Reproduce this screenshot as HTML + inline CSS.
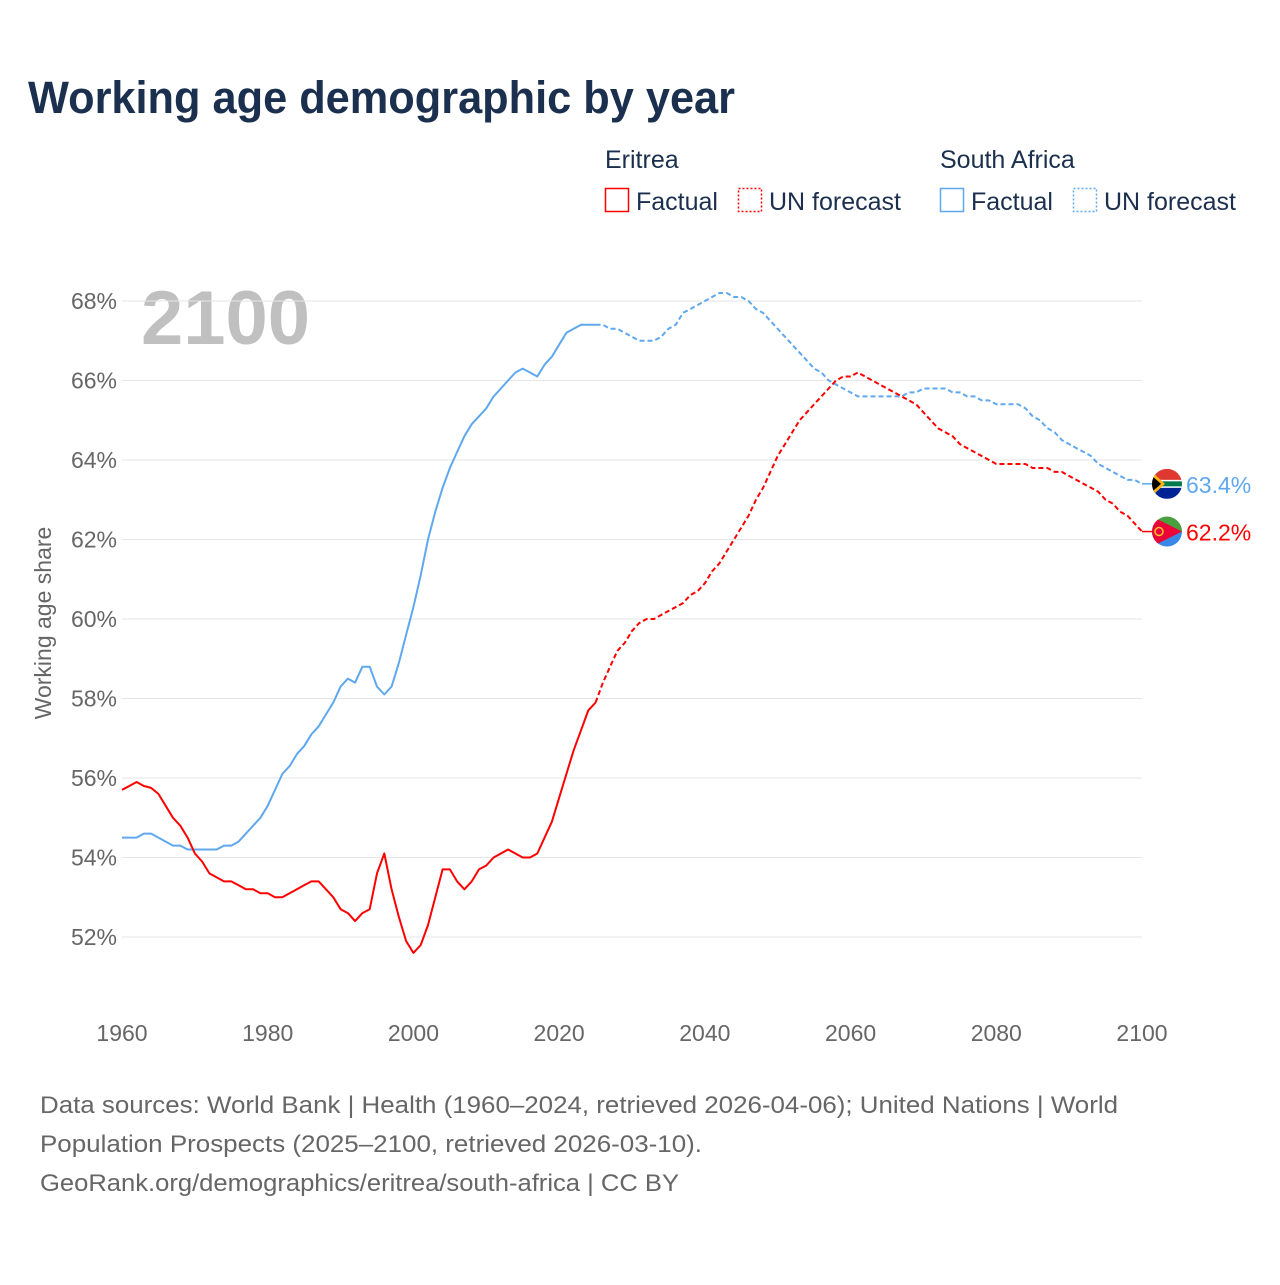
<!DOCTYPE html>
<html><head><meta charset="utf-8"><style>
body{margin:0;background:#fff;font-family:"Liberation Sans",sans-serif}
svg text{font-family:"Liberation Sans",sans-serif}
</style></head><body>
<svg id="chart" width="1280" height="1280" viewBox="0 0 1280 1280" xmlns="http://www.w3.org/2000/svg">
<rect width="1280" height="1280" fill="#fff"/>
<text x="28" y="113" font-size="45" font-weight="bold" fill="#1b2f4e" textLength="707" lengthAdjust="spacingAndGlyphs">Working age demographic by year</text>
<g font-size="25" fill="#1b2f4e">
<text x="605" y="168" fill="#1b2f4e">Eritrea</text>
<text x="940" y="168" fill="#1b2f4e">South Africa</text>
<g><rect x="605.5" y="188.5" width="23" height="23" fill="none" stroke="#f00" stroke-width="1.5"/><text x="636" y="210" fill="#1b2f4e">Factual</text></g>
<g><rect x="738.5" y="188.5" width="23" height="23" fill="none" stroke="#f00" stroke-width="1.5" stroke-dasharray="2 2"/><text x="769" y="210" fill="#1b2f4e">UN forecast</text></g>
<g><rect x="940.5" y="188.5" width="23" height="23" fill="none" stroke="#5fa8ee" stroke-width="1.5"/><text x="971" y="210" fill="#1b2f4e">Factual</text></g>
<g><rect x="1073.5" y="188.5" width="23" height="23" fill="none" stroke="#5fa8ee" stroke-width="1.5" stroke-dasharray="2 2"/><text x="1104" y="210" fill="#1b2f4e">UN forecast</text></g>
</g>
<text x="141" y="344" font-size="76" font-weight="bold" fill="#c0c0c0">2100</text>
<g id="grid"></g><g id="yticks"></g><g id="xticks"></g><g id="lines"></g><g id="ends"></g>
<text transform="translate(51,623) rotate(-90)" text-anchor="middle" font-size="23" fill="#666">Working age share</text>
<g font-size="24" fill="#666">
<text x="40" y="1113" textLength="1078" lengthAdjust="spacingAndGlyphs">Data sources: World Bank | Health (1960–2024, retrieved 2026-04-06); United Nations | World</text>
<text x="40" y="1152" textLength="662" lengthAdjust="spacingAndGlyphs">Population Prospects (2025–2100, retrieved 2026-03-10).</text>
<text x="40" y="1191" textLength="639" lengthAdjust="spacingAndGlyphs">GeoRank.org/demographics/eritrea/south-africa | CC BY</text>
</g>
</svg>
<script>
const yTicks=[52,54,56,58,60,62,64,66,68];
const xTicks=[1960,1980,2000,2020,2040,2060,2080,2100];
const factualStart=1960;
const forecastStart=2025;
const eriFactual=[55.7,55.8,55.9,55.8,55.75,55.6,55.3,55.0,54.8,54.5,
54.1,53.9,53.6,53.5,53.4,53.4,53.3,53.2,53.2,53.1,
53.1,53.0,53.0,53.1,53.2,53.3,53.4,53.4,53.2,53.0,
52.7,52.6,52.4,52.6,52.7,53.6,54.1,53.2,52.5,51.9,
51.6,51.8,52.3,53.0,53.7,53.7,53.4,53.2,53.4,53.7,
53.8,54.0,54.1,54.2,54.1,54.0,54.0,54.1,54.5,54.9,
55.5,56.1,56.7,57.2,57.7,57.9];
const eriForecast=[57.9,
58.4,58.8,59.2,59.4,59.7,59.9,60.0,60.0,60.1,60.2,
60.3,60.4,60.6,60.7,60.9,61.2,61.4,61.7,62.0,62.3,
62.6,63.0,63.3,63.7,64.1,64.4,64.7,65.0,65.2,65.4,
65.6,65.8,66.0,66.1,66.1,66.2,66.1,66.0,65.9,65.8,
65.7,65.6,65.5,65.4,65.2,65.0,64.8,64.7,64.6,64.4,
64.3,64.2,64.1,64.0,63.9,63.9,63.9,63.9,63.9,63.8,
63.8,63.8,63.7,63.7,63.6,63.5,63.4,63.3,63.2,63.0,
62.9,62.7,62.6,62.4,62.2];
const saFactual=[54.5,54.5,54.5,54.6,54.6,54.5,54.4,54.3,54.3,54.2,
54.2,54.2,54.2,54.2,54.3,54.3,54.4,54.6,54.8,55.0,
55.3,55.7,56.1,56.3,56.6,56.8,57.1,57.3,57.6,57.9,
58.3,58.5,58.4,58.8,58.8,58.3,58.1,58.3,58.9,59.6,
60.3,61.1,62.0,62.7,63.3,63.8,64.2,64.6,64.9,65.1,
65.3,65.6,65.8,66.0,66.2,66.3,66.2,66.1,66.4,66.6,
66.9,67.2,67.3,67.4,67.4,67.4];
const saForecast=[67.4,
67.4,67.3,67.3,67.2,67.1,67.0,67.0,67.0,67.1,67.3,
67.4,67.7,67.8,67.9,68.0,68.1,68.2,68.2,68.1,68.1,
68.0,67.8,67.7,67.5,67.3,67.1,66.9,66.7,66.5,66.3,
66.2,66.0,65.9,65.8,65.7,65.6,65.6,65.6,65.6,65.6,
65.6,65.6,65.7,65.7,65.8,65.8,65.8,65.8,65.7,65.7,
65.6,65.6,65.5,65.5,65.4,65.4,65.4,65.4,65.3,65.1,
65.0,64.8,64.7,64.5,64.4,64.3,64.2,64.1,63.9,63.8,
63.7,63.6,63.5,63.5,63.4];
const NS='http://www.w3.org/2000/svg';
const X=y=>122+(y-1960)*(1142-122)/140;
const Y=v=>301+(68-v)*(937-301)/16;
function mk(t,a,p){const e=document.createElementNS(NS,t);for(const k in a)e.setAttribute(k,a[k]);p.appendChild(e);return e;}
const grid=document.getElementById('grid'),yt=document.getElementById('yticks'),xt=document.getElementById('xticks'),lines=document.getElementById('lines'),ends=document.getElementById('ends');
yTicks.forEach(v=>{
 const l=mk('line',{x1:122,x2:1142,y1:Y(v),y2:Y(v),stroke:'#e6e6e6','stroke-width':1},grid);
 
 
 const t=mk('text',{x:117,y:Y(v)+8,'text-anchor':'end','font-size':23,fill:'#666'},yt);
 t.textContent=v+'%';
 
 
});
xTicks.forEach(y=>{
 const t=mk('text',{x:X(y),y:1041,'text-anchor':'middle','font-size':23,fill:'#666'},xt);
 t.textContent=y;
 
 
});
function path(vals,start,color,dash,name){
 const d=vals.map((v,i)=>(i?'L':'M')+X(start+i).toFixed(1)+','+Y(v).toFixed(1)).join(' ');
 const p=mk('path',{d:d,fill:'none',stroke:color,'stroke-width':2,'stroke-linejoin':'round'},lines);
 if(dash)p.setAttribute('stroke-dasharray','5 3');
 
 
}
path(saFactual,factualStart,'#5fa8ee',false,'south-africa-factual-line');
path(saForecast,forecastStart,'#5fa8ee',true,'south-africa-forecast-line');
path(eriFactual,factualStart,'#ff0000',false,'eritrea-factual-line');
path(eriForecast,forecastStart,'#ff0000',true,'eritrea-forecast-line');
function endLabel(v,color,name,flag){
 const y=Y(v),cx=1167;
 const g=mk('g',{},ends);
 
 
 mk('line',{x1:1142,x2:cx-14,y1:y,y2:y,stroke:color,'stroke-width':1.5},g);
 const cp=mk('clipPath',{id:name+'-clip'},g);mk('circle',{cx:cx,cy:y,r:15},cp);
 const f=mk('g',{'clip-path':'url(#'+name+'-clip)'},g);
 flag(f,cx,y);
 const t=mk('text',{x:1186,y:y+9,'font-size':23,fill:color},g);
 t.textContent=v.toFixed(1)+'%';
}
endLabel(saForecast[saForecast.length-1],'#5fa8ee','south-africa-end-label',(f,cx,y)=>{
 mk('rect',{x:cx-15,y:y-15,width:30,height:15,fill:'#de3831'},f);
 mk('rect',{x:cx-15,y:y,width:30,height:15,fill:'#002395'},f);
 mk('rect',{x:cx-15,y:y-4,width:30,height:8,fill:'#fff'},f);
 mk('rect',{x:cx-15,y:y-2.5,width:30,height:5,fill:'#007a4d'},f);
 mk('polygon',{points:`${cx-15},${y-12} ${cx-2},${y} ${cx-15},${y+12}`,fill:'#ffb612'},f);
 mk('polygon',{points:`${cx-15},${y-8} ${cx-6},${y} ${cx-15},${y+8}`,fill:'#000'},f);
});
endLabel(eriForecast[eriForecast.length-1],'#ff0000','eritrea-end-label',(f,cx,y)=>{
 mk('rect',{x:cx-15,y:y-15,width:30,height:15,fill:'#4aa03f'},f);
 mk('rect',{x:cx-15,y:y,width:30,height:15,fill:'#3a87e8'},f);
 mk('polygon',{points:`${cx-15},${y-15} ${cx+15},${y} ${cx-15},${y+15}`,fill:'#ea0437'},f);
 mk('circle',{cx:cx-8,cy:y,r:4,fill:'none',stroke:'#ffc726','stroke-width':1.5},f);
});
</script>
</body></html>
